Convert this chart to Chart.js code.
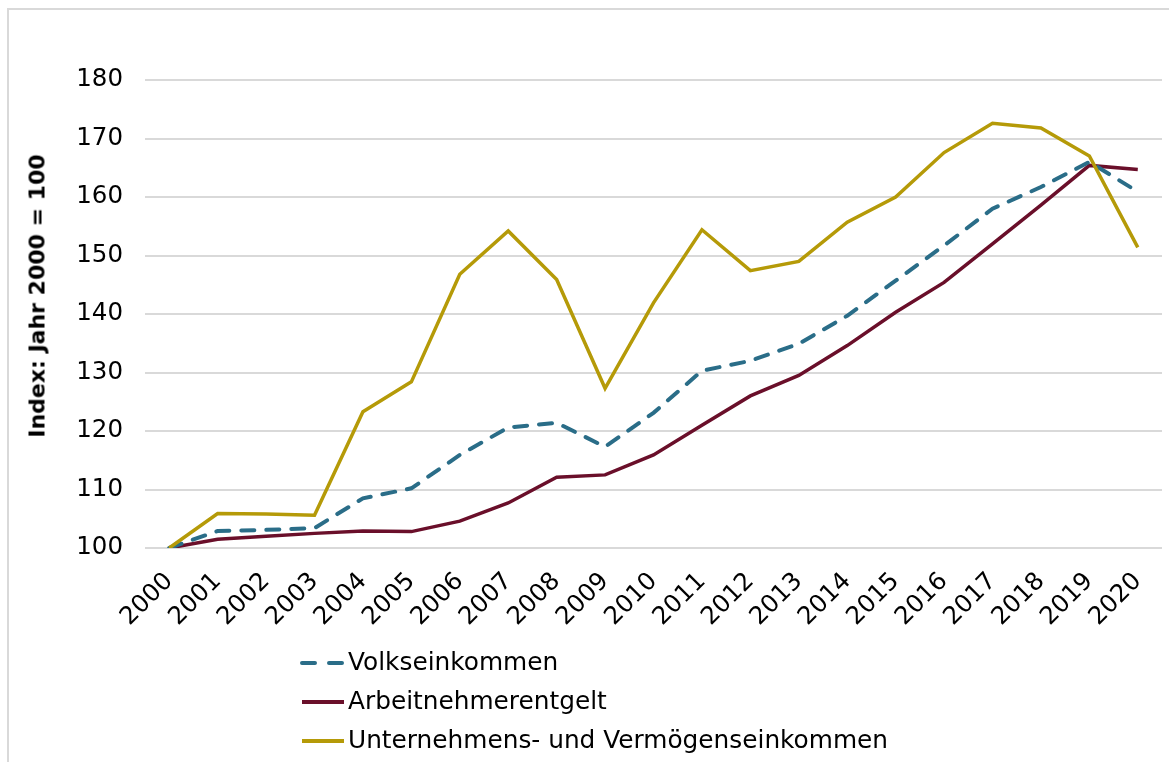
<!DOCTYPE html>
<html>
<head>
<meta charset="utf-8">
<script src="https://cdn.jsdelivr.net/npm/chart.js@4.4.1/dist/chart.umd.min.js"></script>
<style>
  body { margin: 0; background: #fff; }
  .wrap { position: relative; width: 1169px; height: 762px; overflow: hidden; }
  .frame { position: absolute; left: 7px; top: 8px; width: 1200px; height: 800px; border-left: 2px solid #d9d9d9; border-top: 2px solid #d9d9d9; }
  canvas { position: absolute; left: 0; top: 0; }
  .ytitle { position: absolute; left: 37px; top: 296px; transform: translate(-50%, -50%) rotate(-90deg);
    font-family: "DejaVu Sans", sans-serif; font-weight: bold; font-size: 22px; color: #000; white-space: nowrap; }
  .legend { position: absolute; left: 300px; top: 643px; font-family: "DejaVu Sans", sans-serif; font-size: 24.8px; color: #000; }
  .legend div { height: 39px; line-height: 37px; white-space: nowrap; }
  .legend svg { vertical-align: middle; margin-right: 2px; }
</style>
</head>
<body>
<div class="wrap">
  <div class="frame"></div>
  <canvas id="myChart" width="1169" height="762"></canvas>
  <div class="ytitle" id="ytitle"></div>
  <div class="legend" id="legend"></div>
</div>
<script>
const years = ["2000","2001","2002","2003","2004","2005","2006","2007","2008","2009","2010",
  "2011","2012","2013","2014","2015","2016","2017","2018","2019","2020"];

const volkseinkommen = [100, 102.9, 103.1, 103.4, 108.5, 110.2, 115.9, 120.6, 121.4, 117.3, 123.1,
  130.3, 132.0, 134.9, 139.7, 145.7, 151.7, 158.0, 161.7, 166.0, 160.9];
const arbeitnehmerentgelt = [100, 101.5, 102.0, 102.5, 102.9, 102.8, 104.6, 107.7, 112.1, 112.5, 115.9,
  121.0, 126.0, 129.5, 134.6, 140.3, 145.4, 152.0, 158.6, 165.4, 164.7];
const unternehmenseinkommen = [100, 105.9, 105.8, 105.6, 123.3, 128.4, 146.8, 154.2, 145.9, 127.3, 141.9,
  154.4, 147.4, 149.0, 155.7, 160.0, 167.6, 172.6, 171.8, 167.0, 151.4];

const seriesNames = ["Volkseinkommen", "Arbeitnehmerentgelt", "Unternehmens- und Vermögenseinkommen"];
const yTicks = [100, 110, 120, 130, 140, 150, 160, 170, 180];
const yTitle = "Index: Jahr 2000 = 100";

const teal = "#2a6d88";
const maroon = "#6a0f2a";
const gold = "#b59a08";
const font = "'DejaVu Sans', sans-serif";

const ctx = document.getElementById("myChart").getContext("2d");

const myChart = new Chart(ctx, {
  type: "line",
  data: {
    labels: years,
    datasets: [
      { label: seriesNames[0], data: volkseinkommen, borderColor: teal, borderWidth: 4,
        borderDash: [13, 12], borderCapStyle: "round", order: 1 },
      { label: seriesNames[1], data: arbeitnehmerentgelt, borderColor: maroon, borderWidth: 3.5, order: 2 },
      { label: seriesNames[2], data: unternehmenseinkommen, borderColor: gold, borderWidth: 3.5, order: 0 }
    ]
  },
  options: {
    responsive: false,
    animation: false,
    layout: { padding: { left: 25, right: 7, top: 80, bottom: 0 } },
    elements: { point: { radius: 0 }, line: { tension: 0 } },
    plugins: { legend: { display: false }, tooltip: { enabled: false } },
    scales: {
      x: {
        offset: true,
        grid: { display: false, drawTicks: false },
        border: { display: false },
        ticks: { color: "#000", font: { family: font, size: 24.5 }, maxRotation: 45, minRotation: 45,
          autoSkip: false, padding: 19 },
        afterFit: (scale) => {
          scale.height = 214;
          // labels may hang over the edges, keep the plot width fixed
          scale.paddingLeft = 0;
          scale.paddingRight = 0;
        }
      },
      y: {
        min: 100, max: 180,
        afterBuildTicks: (scale) => { scale.ticks = yTicks.map(v => ({ value: v })); },
        grid: { color: "#d9d9d9", lineWidth: 2, drawTicks: false },
        border: { display: false },
        ticks: { color: "#000", font: { family: font, size: 24.5 }, padding: 22 },
        afterFit: (scale) => { scale.width = 120; }
      }
    }
  }
});

document.getElementById("ytitle").textContent = yTitle;

// legend in list form under the chart
const legendDiv = document.getElementById("legend");
myChart.data.datasets.forEach((ds) => {
  const row = document.createElement("div");
  const dash = ds.borderDash ? 'stroke-dasharray="13 14" stroke-linecap="round"' : "";
  row.innerHTML = '<svg width="46" height="10"><line x1="2" y1="5" x2="44" y2="5" stroke="' + ds.borderColor +
    '" stroke-width="4" ' + dash + '/></svg>' + ds.label;
  legendDiv.appendChild(row);
});
</script>
</body>
</html>
